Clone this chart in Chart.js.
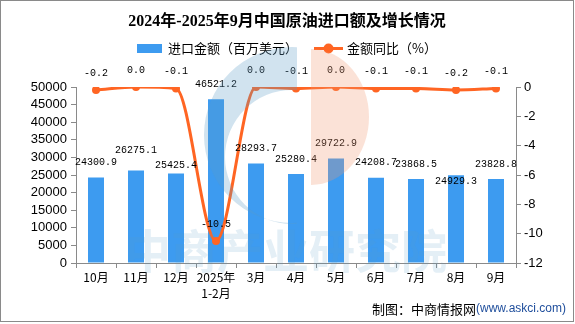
<!DOCTYPE html>
<html>
<head>
<meta charset="utf-8">
<script src="https://cdn.jsdelivr.net/npm/chart.js@4.4.1/dist/chart.umd.min.js"></script>
<style>
  html, body { margin: 0; padding: 0; background: #fff; }
  canvas { display: block; }
</style>
</head>
<body>
<canvas id="grafico" width="575" height="324"></canvas>
<script>
// dados
const categorias = ['10月', '11月', '12月', ['2025年', '1-2月'], '3月', '4月', '5月', '6月', '7月', '8月', '9月'];
const valorImportacao = [24300.9, 26275.1, 25425.4, 46521.2, 28293.7, 25280.4, 29722.9, 24208.7, 23868.5, 24929.3, 23828.8];
const crescimentoAnual = [-0.2, 0.0, -0.1, -10.5, 0.0, -0.1, 0.0, -0.1, -0.1, -0.2, -0.1];
const ticksValor = [0, 5000, 10000, 15000, 20000, 25000, 30000, 35000, 40000, 45000, 50000];
const ticksCrescimento = [-12, -10, -8, -6, -4, -2, 0];

// ajuste vertical dos rótulos das barras (evita sobreposição como no original)
const ajusteRotuloBarra = [0, -5, 7, 0, 0, 0, 0, 0, 0, 21, 0];

const AZUL = '#3D9BF0';
const LARANJA = '#FF6523';
const CINZA = '#8a8a8a';
const fonteCJK = '"Noto Sans CJK SC", sans-serif';

const pluginFundo = {
    id: 'fundo',
    beforeDraw(chart) {
        const ctx = chart.ctx;
        ctx.save();
        ctx.fillStyle = '#fff';
        ctx.fillRect(0, 0, chart.width, chart.height);
        ctx.restore();
    }
};

const pluginRotulos = {
    id: 'rotulos',
    afterDatasetsDraw(chart) {
        const ctx = chart.ctx;
        ctx.save();
        ctx.font = '10px "Liberation Mono", monospace';
        ctx.fillStyle = '#000';
        ctx.textAlign = 'center';
        ctx.textBaseline = 'middle';

        const barras = chart.getDatasetMeta(0);
        barras.data.forEach((el, i) => {
            ctx.fillText(valorImportacao[i].toFixed(1), el.x, el.y - 15 + ajusteRotuloBarra[i]);
        });

        const linha = chart.getDatasetMeta(1);
        linha.data.forEach((el, i) => {
            ctx.fillText(crescimentoAnual[i].toFixed(1), el.x, el.y - 17);
        });
        ctx.restore();
    }
};

const pluginDecoracao = {
    id: 'decoracao',
    afterDraw(chart) {
        const ctx = chart.ctx;
        ctx.save();

        // titulo
        ctx.fillStyle = '#000';
        ctx.textAlign = 'center';
        ctx.textBaseline = 'middle';
        ctx.font = 'bold 16px "Liberation Serif", ' + fonteCJK;
        ctx.fillText('2024年-2025年9月中国原油进口额及增长情况', 287, 22);

        // legenda
        ctx.textAlign = 'left';
        ctx.font = '13px ' + fonteCJK;
        ctx.fillStyle = AZUL;
        ctx.fillRect(137, 44, 25, 9);
        ctx.fillStyle = '#000';
        ctx.fillText('进口金额（百万美元）', 168, 48.5);

        ctx.strokeStyle = LARANJA;
        ctx.lineWidth = 3;
        ctx.beginPath();
        ctx.moveTo(314, 48.5);
        ctx.lineTo(343, 48.5);
        ctx.stroke();
        ctx.fillStyle = LARANJA;
        ctx.beginPath();
        ctx.arc(328.5, 48.5, 5, 0, Math.PI * 2);
        ctx.fill();
        ctx.fillStyle = '#000';
        ctx.fillText('金额同比（%）', 347, 48.5);

        // fonte
        ctx.textAlign = 'left';
        ctx.font = '12px "Liberation Sans", sans-serif';
        const site = '(www.askci.com)';
        const wSite = ctx.measureText(site).width;
        ctx.font = '13px ' + fonteCJK;
        const autor = '制图：中商情报网';
        const wAutor = ctx.measureText(autor).width;
        const xIni = 566 - wSite - wAutor;
        ctx.fillStyle = '#000';
        ctx.fillText(autor, xIni, 309);
        ctx.font = '12px "Liberation Sans", sans-serif';
        ctx.fillStyle = '#1f4e9c';
        ctx.fillText(site, xIni + wAutor, 309);

        // marca d'agua
        ctx.save();
        ctx.beginPath();
        ctx.rect(0, 0, 297, 324);
        ctx.clip();
        ctx.beginPath();
        ctx.arc(292, 135, 88, 0, Math.PI * 2);
        ctx.moveTo(292 + 67, 157);
        ctx.arc(292, 157, 67, 0, Math.PI * 2);
        ctx.fillStyle = 'rgba(88,155,198,0.28)';
        ctx.fill('evenodd');
        ctx.restore();

        ctx.save();
        ctx.beginPath();
        ctx.rect(311, 0, 200, 324);
        ctx.clip();
        ctx.beginPath();
        ctx.ellipse(311, 117, 58, 68, 0, 0, Math.PI * 2);
        ctx.fillStyle = 'rgba(240,150,110,0.28)';
        ctx.fill();
        ctx.restore();

        ctx.font = 'bold 46px ' + fonteCJK;
        ctx.textAlign = 'center';
        ctx.fillStyle = 'rgba(88,155,198,0.16)';
        ctx.fillText('中商产业研究院', 286, 251);

        // moldura
        ctx.strokeStyle = CINZA;
        ctx.lineWidth = 1;
        ctx.strokeRect(0.5, 0.5, 573, 321);
        ctx.restore();
    }
};

const ctx = document.getElementById('grafico').getContext('2d');

new Chart(ctx, {
    type: 'bar',
    data: {
        labels: categorias,
        datasets: [{
            type: 'bar',
            label: '进口金额（百万美元）',
            data: valorImportacao,
            backgroundColor: AZUL,
            barPercentage: 0.4,
            categoryPercentage: 1.0,
            yAxisID: 'y',
            order: 1
        }, {
            type: 'line',
            label: '金额同比（%）',
            data: crescimentoAnual,
            borderColor: LARANJA,
            backgroundColor: LARANJA,
            borderWidth: 3,
            pointRadius: 4,
            pointBorderWidth: 0,
            cubicInterpolationMode: 'monotone',
            yAxisID: 'y1',
            order: 0
        }]
    },
    options: {
        responsive: false,
        animation: false,
        layout: { padding: { top: 87, left: 0, right: 0, bottom: 0 } },
        plugins: {
            legend: { display: false },
            title: { display: false },
            tooltip: { enabled: false }
        },
        scales: {
            x: {
                grid: { display: true, drawOnChartArea: false, tickLength: 5, color: CINZA, offset: true },
                border: { color: CINZA },
                ticks: {
                    color: '#000',
                    padding: 2,
                    maxRotation: 0,
                    autoSkip: false,
                    font: { family: fonteCJK, size: 12, lineHeight: 1.3 }
                },
                afterFit(scale) { scale.height = 61; }
            },
            y: {
                position: 'left',
                min: ticksValor[0],
                max: ticksValor[ticksValor.length - 1],
                afterBuildTicks(scale) { scale.ticks = ticksValor.map(v => ({ value: v })); },
                ticks: {
                    autoSkip: false,
                    color: '#000',
                    padding: 4,
                    font: { family: '"Liberation Sans", sans-serif', size: 13 },
                    callback: v => String(v)
                },
                grid: { drawOnChartArea: false, tickLength: 5, color: CINZA },
                border: { color: CINZA },
                afterFit(scale) { scale.width = 76; }
            },
            y1: {
                position: 'right',
                min: ticksCrescimento[0],
                max: ticksCrescimento[ticksCrescimento.length - 1],
                afterBuildTicks(scale) { scale.ticks = ticksCrescimento.map(v => ({ value: v })); },
                ticks: {
                    autoSkip: false,
                    color: '#000',
                    padding: 3,
                    font: { family: '"Liberation Sans", sans-serif', size: 13 },
                    callback: v => String(v)
                },
                grid: { drawOnChartArea: false, tickLength: 5, color: CINZA },
                border: { color: CINZA },
                afterFit(scale) { scale.width = 59; }
            }
        }
    },
    plugins: [pluginFundo, pluginRotulos, pluginDecoracao]
});
</script>
</body>
</html>
